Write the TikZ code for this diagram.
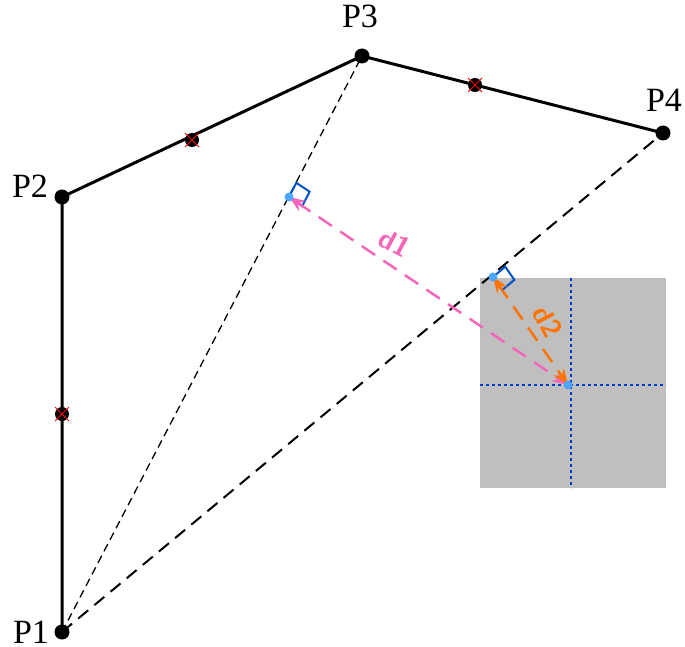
\documentclass[tikz,border=0pt]{standalone}
\usepackage{fontspec}
\setmainfont{Liberation Serif}
\usetikzlibrary{calc,arrows.meta}
\tikzset{
  pt/.style={circle,fill=black,inner sep=0pt,minimum size=15pt},
  mid/.style={circle,fill=black,inner sep=0pt,minimum size=14pt},
  lbl/.style={font=\fontsize{34}{34}\selectfont},
  perp/.style={draw=blue!60!cyan!80!black,line width=2pt},
  dist/.style={line width=2.5pt,dash pattern=on 16pt off 10pt,{Stealth[length=16pt,width=12pt]}-{Stealth[length=16pt,width=12pt]}},
  dlbl/.style={font=\sffamily\bfseries\fontsize{28}{28}\selectfont,inner sep=1pt},
}
\begin{document}
\begin{tikzpicture}[x=1pt,y=-1pt]
  \useasboundingbox (0,0) rectangle (685,647);
  % grid cell
  \fill[black!25] (480,278) rectangle (666,488);
  \draw[blue!70!cyan!80!black,dash pattern=on 3pt off 3pt,line width=2pt] (571,278) -- (571,488);
  \draw[blue!70!cyan!80!black,dash pattern=on 3pt off 3pt,line width=2pt] (480,385) -- (666,385);

  \node[pt] (P1) at (62,632) {};
  \node[pt] (P2) at (62,197) {};
  \node[pt] (P3) at (362,56) {};
  \node[pt] (P4) at (663,133) {};
  \node[lbl] (NP1) at (31,632) {P1};
  \node[lbl] (NP2) at (30,186) {P2};
  \node[lbl] (NP3) at (360,16) {P3};
  \node[lbl] (NP4) at (664,100) {P4};

  \coordinate (C) at (568,385);
  \coordinate (F1) at (289,197);
  \coordinate (F2) at (493,277);

  \draw[line width=1.3pt,dash pattern=on 8pt off 5pt] (P1.center) -- (P3.center);
  \draw[line width=2pt,dash pattern=on 13pt off 8pt] (P1.center) -- (P4.center);
  \draw[line width=3pt] (P1.center) -- (P2.center) -- (P3.center) -- (P4.center);

  % midpoints
  \foreach \p/\n in {{(62,414)}/M1,{(192,140)}/M2,{(475,85)}/M3}{
    \node[mid] (\n) at \p {};
    \draw[red,line width=1pt] ($(\n)+(-7,-7)$) -- ($(\n)+(7,7)$)
      ($(\n)+(-7,7)$) -- ($(\n)+(7,-7)$);
  }

  % right angles
  \draw[perp] (F1) -- ($(F1)!16pt!(P3)$) -- ($($(F1)!16pt!(P3)$)+($(F1)!16pt!(C)-(F1)$)$) -- ($(F1)!16pt!(C)$) -- cycle;
  \draw[perp] (F2) -- ($(F2)!16pt!(P4)$) -- ($($(F2)!16pt!(P4)$)+($(F2)!16pt!(C)-(F2)$)$) -- ($(F2)!16pt!(C)$) -- cycle;

  % distances
  \draw[magenta!60,dist] (F1) -- (C);
  \draw[orange!90!red,dist] (F2) -- (C);
  \node[magenta!60,dlbl,fill=white,rotate=-28] (Nd1) at (395,243) {d1};
  \node[orange!90!red,dlbl,fill=black!25,rotate=-62] (Nd2) at (548,322) {d2};

  \fill[blue!50!cyan!70] (F1) circle (4.5);
  \fill[blue!50!cyan!70] (F2) circle (4.5);
  \fill[blue!50!cyan!70] (C) circle (4.5);
\end{tikzpicture}
\end{document}
